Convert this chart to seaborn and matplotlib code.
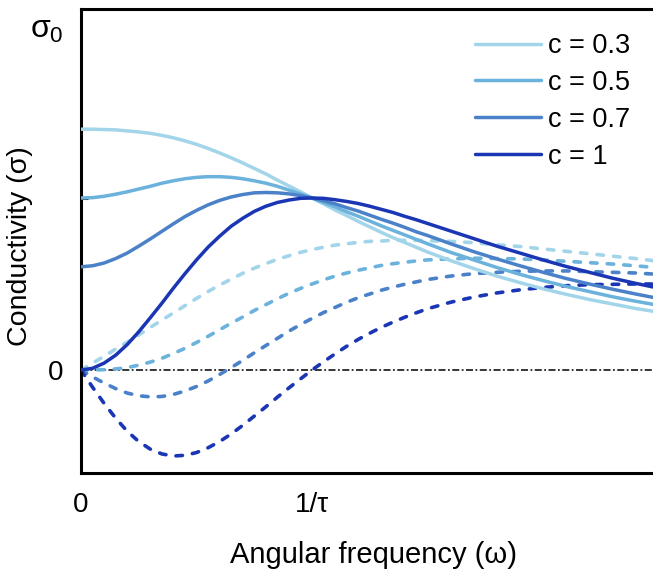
import matplotlib
matplotlib.use("Agg")
import matplotlib.pyplot as plt
import seaborn as sns
from matplotlib.ticker import FixedLocator

# ---- data (omega*tau, conductivity in units of sigma0) ----
omega = [0.00, 0.05, 0.10, 0.15, 0.20, 0.25, 0.30, 0.35, 0.40, 0.45,
         0.50, 0.55, 0.60, 0.65, 0.70, 0.75, 0.80, 0.85, 0.90, 0.95,
         1.00, 1.05, 1.10, 1.15, 1.20, 1.25, 1.30, 1.35, 1.40, 1.45,
         1.50, 1.60, 1.70, 1.80, 1.90, 2.00, 2.10, 2.20, 2.30, 2.40, 2.50]

real_c03 = [0.700, 0.700, 0.699, 0.698, 0.695, 0.692, 0.688, 0.682, 0.675, 0.666,
            0.656, 0.644, 0.631, 0.617, 0.602, 0.586, 0.570, 0.552, 0.535, 0.518,
            0.500, 0.483, 0.465, 0.449, 0.432, 0.416, 0.400, 0.385, 0.371, 0.357,
            0.343, 0.318, 0.295, 0.273, 0.254, 0.236, 0.220, 0.205, 0.192, 0.179, 0.168]
real_c05 = [0.500, 0.501, 0.505, 0.511, 0.518, 0.526, 0.534, 0.543, 0.550, 0.556,
            0.560, 0.562, 0.562, 0.560, 0.556, 0.550, 0.543, 0.534, 0.523, 0.512,
            0.500, 0.487, 0.474, 0.460, 0.447, 0.433, 0.419, 0.406, 0.393, 0.380,
            0.367, 0.342, 0.320, 0.298, 0.278, 0.260, 0.243, 0.228, 0.213, 0.200, 0.188]
real_c07 = [0.300, 0.303, 0.311, 0.324, 0.340, 0.360, 0.381, 0.403, 0.425, 0.446,
            0.464, 0.480, 0.493, 0.503, 0.510, 0.515, 0.516, 0.515, 0.512, 0.507,
            0.500, 0.492, 0.483, 0.472, 0.462, 0.450, 0.438, 0.427, 0.415, 0.402,
            0.391, 0.367, 0.344, 0.323, 0.303, 0.284, 0.266, 0.250, 0.235, 0.221, 0.208]
real_c10 = [0.000, 0.005, 0.020, 0.043, 0.074, 0.111, 0.152, 0.194, 0.238, 0.280,
            0.320, 0.357, 0.389, 0.418, 0.441, 0.461, 0.476, 0.487, 0.494, 0.499,
            0.500, 0.499, 0.495, 0.490, 0.484, 0.476, 0.467, 0.458, 0.447, 0.437,
            0.426, 0.404, 0.382, 0.360, 0.340, 0.320, 0.301, 0.284, 0.267, 0.252, 0.238]

imag_c03 = [0.000, 0.020, 0.040, 0.061, 0.081, 0.102, 0.124, 0.145, 0.166, 0.187,
            0.208, 0.228, 0.247, 0.264, 0.281, 0.296, 0.309, 0.322, 0.332, 0.342,
            0.350, 0.357, 0.363, 0.367, 0.371, 0.374, 0.375, 0.377, 0.377, 0.377,
            0.376, 0.374, 0.370, 0.364, 0.359, 0.352, 0.345, 0.338, 0.331, 0.324, 0.316]
imag_c05 = [0.000, 0.000, 0.001, 0.003, 0.007, 0.014, 0.023, 0.034, 0.048, 0.063,
            0.080, 0.098, 0.117, 0.136, 0.154, 0.173, 0.190, 0.207, 0.223, 0.237,
            0.250, 0.262, 0.273, 0.282, 0.290, 0.297, 0.304, 0.309, 0.313, 0.317,
            0.320, 0.323, 0.325, 0.324, 0.323, 0.320, 0.316, 0.312, 0.308, 0.303, 0.297]
imag_c07 = [0.000, -0.020, -0.038, -0.054, -0.067, -0.075, -0.078, -0.077, -0.071, -0.061,
            -0.048, -0.032, -0.013, 0.007, 0.028, 0.050, 0.071, 0.092, 0.113, 0.132,
            0.150, 0.167, 0.182, 0.197, 0.210, 0.221, 0.232, 0.241, 0.249, 0.256,
            0.263, 0.273, 0.280, 0.284, 0.287, 0.288, 0.288, 0.286, 0.284, 0.282, 0.278]
imag_c10 = [0.000, -0.050, -0.097, -0.140, -0.178, -0.208, -0.230, -0.244, -0.250, -0.248,
            -0.240, -0.226, -0.208, -0.186, -0.161, -0.134, -0.107, -0.079, -0.052, -0.026,
            0.000, 0.024, 0.047, 0.069, 0.089, 0.107, 0.124, 0.139, 0.153, 0.166,
            0.178, 0.197, 0.212, 0.224, 0.233, 0.240, 0.245, 0.248, 0.249, 0.250, 0.250]

labels = ["c = 0.3", "c = 0.5", "c = 0.7", "c = 1"]
colors = ["#a3d5ea", "#6bb2dc", "#4a81c8", "#1b36b4"]

y_tick_vals = [0.0, 1.0]
y_tick_labels = ["0", r"$\sigma_0$"]
y_minor_vals = [0.5]
x_tick_vals = [0.0, 1.0, 2.0]
x_tick_labels = ["0", "1/τ", ""]

# ---- style ----
sns.set_style("white")
plt.rcParams["font.family"] = ["Liberation Sans", "DejaVu Sans"]
plt.rcParams["mathtext.fontset"] = "custom"
plt.rcParams["mathtext.rm"] = "Liberation Sans"
plt.rcParams["mathtext.it"] = "Liberation Sans"
plt.rcParams["mathtext.bf"] = "Liberation Sans"

fig = plt.figure(figsize=(6.53, 5.72), dpi=100)
ax = fig.add_axes([81 / 653, 99 / 572, 1 - 81 / 653, 464 / 572])

reals = [real_c03, real_c05, real_c07, real_c10]
imags = [imag_c03, imag_c05, imag_c07, imag_c10]

ax.axhline(0, color="black", lw=1.1, ls=(0, (4.6, 1.6, 1.2, 1.6)), zorder=1)

for ys, col in zip(imags, colors):
    sns.lineplot(x=omega, y=ys, ax=ax, color=col, lw=2.6, legend=False, zorder=2,
                 ls=(0, (1.8, 2.8)), dash_capstyle="round")

handles = []
for ys, col, lab in zip(reals, colors, labels):
    sns.lineplot(x=omega, y=ys, ax=ax, color=col, lw=2.5, legend=False, zorder=3)
    handles.append(ax.lines[-1])

ax.set_xlim(0, 2.476)
ax.set_ylim(-0.2994, 1.0494)

ax.xaxis.set_major_locator(FixedLocator(x_tick_vals))
ax.set_xticklabels(x_tick_labels)
ax.yaxis.set_major_locator(FixedLocator(y_tick_vals))
ax.set_yticklabels(y_tick_labels)
ax.yaxis.set_minor_locator(FixedLocator(y_minor_vals))

ax.tick_params(axis="both", which="major", direction="in", length=11, width=2.2,
               labelsize=20, color="black", labelcolor="black")
ax.tick_params(axis="y", which="major", pad=13)
ax.tick_params(axis="x", which="major", pad=14)
ax.tick_params(axis="y", which="minor", direction="in", length=5, width=2.2, left=True, color="black")
ax.get_yticklabels()[1].set_fontsize(23)

for side in ["left", "bottom", "top"]:
    ax.spines[side].set_visible(True)
    ax.spines[side].set_linewidth(2.2)
    ax.spines[side].set_color("black")
ax.spines["right"].set_visible(False)

ax.set_xlabel("Angular frequency (ω)", fontsize=21, color="black")
ax.xaxis.set_label_coords((373 - 81) / 572, (473 - 555) / 464)
ax.xaxis.label.set_va("center")
ax.set_ylabel("Conductivity (σ)", fontsize=20.5, color="black")
ax.yaxis.set_label_coords((20 - 81) / 572, (473 - 246) / 464)
ax.yaxis.label.set_va("center")

leg = ax.legend(handles, labels, loc="upper left", bbox_to_anchor=((475 - 81) / 572, (473 - 33) / 464),
                frameon=False, fontsize=19.5, handlelength=2.45, handletextpad=0.26,
                labelspacing=0.4, borderpad=0, borderaxespad=0)
for t in leg.get_texts():
    t.set_color("black")

fig.savefig("out.png", dpi=100)
